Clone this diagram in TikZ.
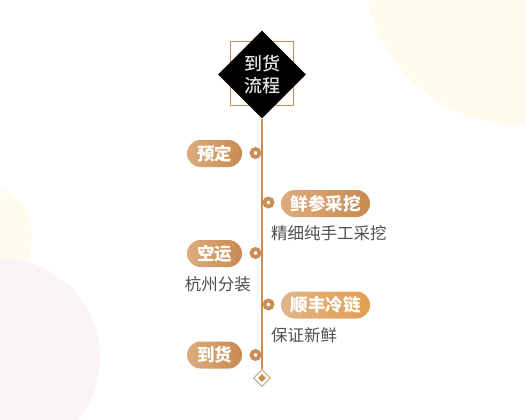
\documentclass[tikz,border=0pt]{standalone}
\usepackage{fontspec}
\setmainfont{Noto Sans CJK SC}
\newfontfamily\heavy{Noto Sans CJK SC Black}
\newfontfamily\mediumcjk{Noto Sans CJK SC Medium}
\usetikzlibrary{shapes.geometric}
\definecolor{linec}{HTML}{C98D55}
\definecolor{yellowbg}{HTML}{FEFBEC}
\definecolor{pinkbg}{HTML}{FAF4F4}
\definecolor{pillL}{HTML}{DDAC7E}
\definecolor{pillR}{HTML}{C88A50}
\definecolor{pillR2}{HTML}{E29E4E}
\definecolor{subtxt}{HTML}{505050}
\definecolor{titletxt}{HTML}{E2E2E2}
\tikzset{
  pill/.style={rounded corners=13.5pt, left color=pillL, right color=pillR,
    minimum width=55pt, minimum height=27pt, inner sep=0pt,
    text=white, font=\fontsize{17.5}{19}\heavy},
  widepill/.style={pill, minimum width=89pt},
  ring/.style={circle, draw=linec, line width=3.8pt, fill=white, minimum size=8pt, inner sep=0pt},
  subnote/.style={text=subtxt, font=\fontsize{16.5}{18}\selectfont, inner sep=0pt}
}
\begin{document}
\begin{tikzpicture}[x=1pt,y=-1pt]
\useasboundingbox (0,0) rectangle (525,420);
\begin{scope}
\clip (0,0) rectangle (525,420);
\fill[yellowbg] (520,-30) circle[radius=155pt];
\fill[yellowbg] (-20,237) circle[radius=52pt];
\fill[pinkbg] (0,358) circle[radius=100pt];
\end{scope}
% title
\node[draw=linec, line width=1pt, minimum size=63pt, inner sep=0pt] (sq) at (261.5,73.5) {};
\node[diamond, fill=black, minimum width=88pt, minimum height=88pt, inner sep=0pt, aspect=1,
  text=titletxt, align=center, font=\fontsize{18}{22}\mediumcjk] (title) at (262,74.5) {到货\\流程};
% end marker
\node[diamond, draw=linec, line width=0.8pt, fill=white, minimum width=17pt, minimum height=17pt, inner sep=0pt] (endd) at (262,378) {};
\node[diamond, fill=linec, minimum width=8pt, minimum height=8pt, inner sep=0pt] (endin) at (262,378) {};
\draw[linec, line width=1.2pt] (title.south) -- (endd.north);
% markers
\node[ring] (m1) at (255.5,153) {};
\node[ring] (m2) at (268.5,202.5) {};
\node[ring] (m3) at (255.5,253) {};
\node[ring] (m4) at (268.5,304.5) {};
\node[ring] (m5) at (255.5,355) {};
% pills
\node[pill] (p1) at (214.5,153.5) {预定};
\node[widepill] (p2) at (325.5,203.5) {鲜参采挖};
\node[pill] (p3) at (214.5,253.5) {空运};
\node[widepill, left color=pillL!90!white, right color=pillR2] (p4) at (325.5,305) {顺丰冷链};
\node[pill] (p5) at (214.5,355) {到货};
% notes
\node[subnote, anchor=west] (n2) at (271,233) {精细纯手工采挖};
\node[subnote, anchor=east] (n3) at (251,284) {杭州分装};
\node[subnote, anchor=west] (n4) at (271,335) {保证新鲜};
\end{tikzpicture}
\end{document}
